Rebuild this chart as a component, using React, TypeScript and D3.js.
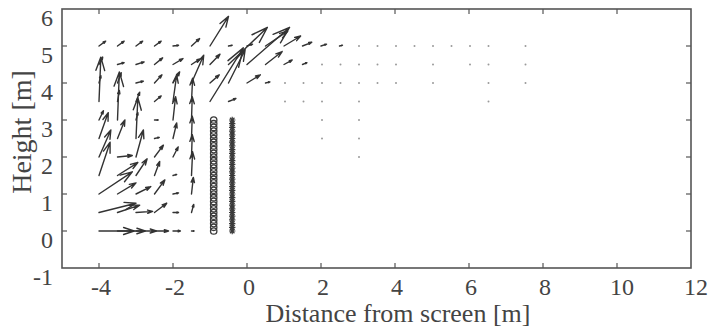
import React from 'react';
import * as d3 from 'd3';

// Axis definitions
const X_DOMAIN: [number, number] = [-5, 12];
const Y_DOMAIN: [number, number] = [-1, 6];
const xTickValues = [-4, -2, 0, 2, 4, 6, 8, 10, 12];
const yTickValues = [-1, 0, 1, 2, 3, 4, 5, 6];
const xLabel = 'Distance from screen [m]';
const yLabel = 'Height [m]';

// Quiver vectors (tail position x, y and components u, v in metres)
const arrowX = [
  -4, -3.5, -3, -2.5, -2, -1.5,
  -4, -3.5, -3, -2.5, -2, -1.5,
  -4, -3.5, -3, -2.5, -2, -1.5,
  -4, -3.5, -3, -2.5, -2, -1.5,
  -4, -3.5, -3, -2.5, -2, -1.5,
  -4, -3.5, -3, -2.5, -2, -1.5,
  -4, -3.5, -3, -2.5, -2, -1.5,
  -4, -3.5, -3, -2.5, -2, -1.5, -1, -0.5,
  -4, -3.5, -3, -2.5, -2, -1.5, -1, -0.5, 0, 0.5,
  -4, -3.5, -3, -2.5, -2, -1.5, -1, -0.5, 0, 0.5, 1, 1.5,
  -4, -3.5, -3, -2.5, -2, -1.5, -1, -0.5, 0, 0.5, 1, 1.5, 2, 2.5,
];
const arrowY = [
  0, 0, 0, 0, 0, 0,
  0.5, 0.5, 0.5, 0.5, 0.5, 0.5,
  1, 1, 1, 1, 1, 1,
  1.5, 1.5, 1.5, 1.5, 1.5, 1.5,
  2, 2, 2, 2, 2, 2,
  2.5, 2.5, 2.5, 2.5, 2.5, 2.5,
  3, 3, 3, 3, 3, 3,
  3.5, 3.5, 3.5, 3.5, 3.5, 3.5, 3.5, 3.5,
  4, 4, 4, 4, 4, 4, 4, 4, 4, 4,
  4.5, 4.5, 4.5, 4.5, 4.5, 4.5, 4.5, 4.5, 4.5, 4.5, 4.5, 4.5,
  5, 5, 5, 5, 5, 5, 5, 5, 5, 5, 5, 5, 5, 5,
];
const arrowU = [
  0.95, 0.75, 0.55, 0.38, 0.2, 0.07,
  1.0, 0.6, 0.45, 0.33, 0.15, 0.06,
  0.9, 0.5, 0.4, 0.28, 0.15, 0.05,
  0.3, 0.55, 0.3, 0.14, 0.1, 0.03,
  0.32, 0.4, 0.2, 0.24, 0.14, 0.02,
  0.25, 0.2, 0.05, 0.13, 0.1, 0.02,
  0.12, 0.05, 0.05, 0.1, 0.07, 0.02,
  0.05, 0.05, 0.1, 0.18, 0.1, 0.03, 0.9, 0.2,
  0.05, 0.1, 0.2, 0.2, 0.18, 0.33, 0.25, 0.45, 0.36, 0.12,
  0.1, 0.18, 0.22, 0.22, 0.27, 0.23, 0.27, 1.05, 1.15, 0.45, 0.22, 0.12,
  0.18, 0.18, 0.18, 0.18, 0.15, 0.22, 0.5, 0.1, 0.15, 0.6, 0.45, 0.25, 0.15, 0.08,
];
const arrowV = [
  0, 0, 0, 0, 0, 0,
  0.25, 0.2, 0.03, 0.25, 0, 0.22,
  0.6, 0.3, 0.2, 0.38, 0.03, 0.45,
  0.9, 0.35, 0.45, 0.38, 0.03, 0.64,
  0.73, 0.04, 0.73, 0.32, 0.27, 0.6,
  0.7, 0.5, 1.1, 0.03, 0.42, 0.6,
  0.25, 1.3, 0.2, 0, 0.63, 0.63,
  1.2, 0.3, 0.25, 0.15, 0.72, 0.63, 1.45, 0.08,
  0.2, 0.28, 0.05, 0.22, 0.3, 0.75, 0.22, 0.9, 0.22, 0.03,
  0.2, 0.05, 0.07, 0.18, 0.16, 0.15, 0.28, 1.0, 1.0, 0.35, 0.12, 0.05,
  0.13, 0.13, 0.13, 0.13, 0.02, 0.2, 0.8, 0.02, 0.05, 0.4, 0.27, 0.1, 0.05, 0.02,
];

// Very weak vectors, drawn as faint dots
const dotX = [
  3, 3.5, 4, 4.5, 5, 5.5, 6, 6.5, 7.5,
  2, 2.5, 3, 3.5, 4, 5, 6, 6.5, 7.5,
  1, 1.5, 2, 2.5, 3, 3.5, 4, 5, 6.5, 7.5,
  1, 1.5, 2, 3, 6.5,
  2, 3,
  2, 3,
  3,
];
const dotY = [
  5, 5, 5, 5, 5, 5, 5, 5, 5,
  4.5, 4.5, 4.5, 4.5, 4.5, 4.5, 4.5, 4.5, 4.5,
  4, 4, 4, 4, 4, 4, 4, 4, 4, 4,
  3.5, 3.5, 3.5, 3.5, 3.5,
  3, 3,
  2.5, 2.5,
  2,
];

// Markers: circles and asterisks
const circleX = -0.9;
const starX = -0.4;
const markerY = [
  0, 0.1, 0.2, 0.3, 0.4, 0.5, 0.6, 0.7, 0.8, 0.9, 1.0,
  1.1, 1.2, 1.3, 1.4, 1.5, 1.6, 1.7, 1.8, 1.9, 2.0,
  2.1, 2.2, 2.3, 2.4, 2.5, 2.6, 2.7, 2.8, 2.9, 3.0,
];

const AXIS_COLOR = '#555';
const ARROW_COLOR = '#333';
const FONT = '"Liberation Serif", "DejaVu Serif", serif';

export default function App() {
  const W = 714;
  const H = 332;
  const left = 62, right = 691, top = 9, bottom = 268;
  const x = d3.scaleLinear().domain(X_DOMAIN).range([left, right]);
  const y = d3.scaleLinear().domain(Y_DOMAIN).range([bottom, top]);

  const alpha = 0.3;
  const beta = 0.33;
  const arrows = arrowX.map((x0, i) => {
    const tx = x(x0);
    const ty = y(arrowY[i]);
    const hx = x(x0 + arrowU[i]);
    const hy = y(arrowY[i] + arrowV[i]);
    const du = hx - tx;
    const dv = hy - ty;
    const p1x = hx - alpha * (du + beta * dv);
    const p1y = hy - alpha * (dv - beta * du);
    const p2x = hx - alpha * (du - beta * dv);
    const p2y = hy - alpha * (dv + beta * du);
    const path = d3.path();
    path.moveTo(tx, ty);
    path.lineTo(hx, hy);
    path.moveTo(p1x, p1y);
    path.lineTo(hx, hy);
    path.lineTo(p2x, p2y);
    return path.toString();
  });

  const tickLen = 5;
  const starR = 3.2;

  return (
    <svg
      width={W}
      height={H}
      style={{ position: 'absolute', left: 0, top: 0, background: '#fff' }}
    >
      <rect x={0} y={0} width={W} height={H} fill="#fff" />
      {/* faint dots */}
      {dotX.map((dx, i) => (
        <circle key={'d' + i} cx={x(dx) + 1} cy={y(dotY[i])} r={1} fill="#9a9a9a" />
      ))}
      {/* arrows */}
      <g fill="none" stroke={ARROW_COLOR} strokeWidth={1.4} strokeLinecap="round" strokeLinejoin="round">
        {arrows.map((d, i) => (
          <path key={'a' + i} d={d} />
        ))}
      </g>
      {/* circles */}
      <g fill="none" stroke="#3a3a3a" strokeWidth={1.3}>
        {markerY.map((my, i) => (
          <circle key={'c' + i} cx={x(circleX)} cy={y(my)} r={3.2} />
        ))}
      </g>
      {/* asterisks */}
      <g stroke="#3a3a3a" strokeWidth={1.2}>
        {markerY.map((my, i) => {
          const cx = x(starX);
          const cy = y(my);
          const r = starR;
          const q = r * 0.707;
          return (
            <path
              key={'s' + i}
              d={`M${cx - r},${cy}L${cx + r},${cy}M${cx},${cy - r}L${cx},${cy + r}M${cx - q},${cy - q}L${cx + q},${cy + q}M${cx - q},${cy + q}L${cx + q},${cy - q}`}
            />
          );
        })}
      </g>
      {/* axes box */}
      <rect x={left} y={top} width={right - left} height={bottom - top} fill="none" stroke={AXIS_COLOR} strokeWidth={1.6} />
      <g stroke={AXIS_COLOR} strokeWidth={1.2}>
        {xTickValues.filter(t => t > X_DOMAIN[0] && t < X_DOMAIN[1]).map(t => (
          <g key={'xt' + t}>
            <line x1={x(t)} x2={x(t)} y1={bottom} y2={bottom - tickLen} />
            <line x1={x(t)} x2={x(t)} y1={top} y2={top + tickLen} />
          </g>
        ))}
        {yTickValues.filter(t => t > Y_DOMAIN[0] && t < Y_DOMAIN[1]).map(t => (
          <g key={'yt' + t}>
            <line x1={left} x2={left + tickLen} y1={y(t)} y2={y(t)} />
            <line x1={right} x2={right - tickLen} y1={y(t)} y2={y(t)} />
          </g>
        ))}
      </g>
      <g fill="#444" fontFamily={FONT} fontSize={24}>
        {xTickValues.map(t => (
          <text key={'xl' + t} x={x(t) + (t >= 10 ? 5 : 2)} y={295} textAnchor="middle">
            {String(t)}
          </text>
        ))}
        {yTickValues.map(t => (
          <text key={'yl' + t} x={53} y={y(t) + 17} textAnchor="end">
            {String(t)}
          </text>
        ))}
      </g>
      <text x={398} y={322} textAnchor="middle" fontFamily={FONT} fontSize={26} fill="#444">
        {xLabel}
      </text>
      <text
        transform={`translate(31,132) rotate(-90)`}
        textAnchor="middle"
        fontFamily={FONT}
        fontSize={28}
        fill="#444"
      >
        {yLabel}
      </text>
    </svg>
  );
}
